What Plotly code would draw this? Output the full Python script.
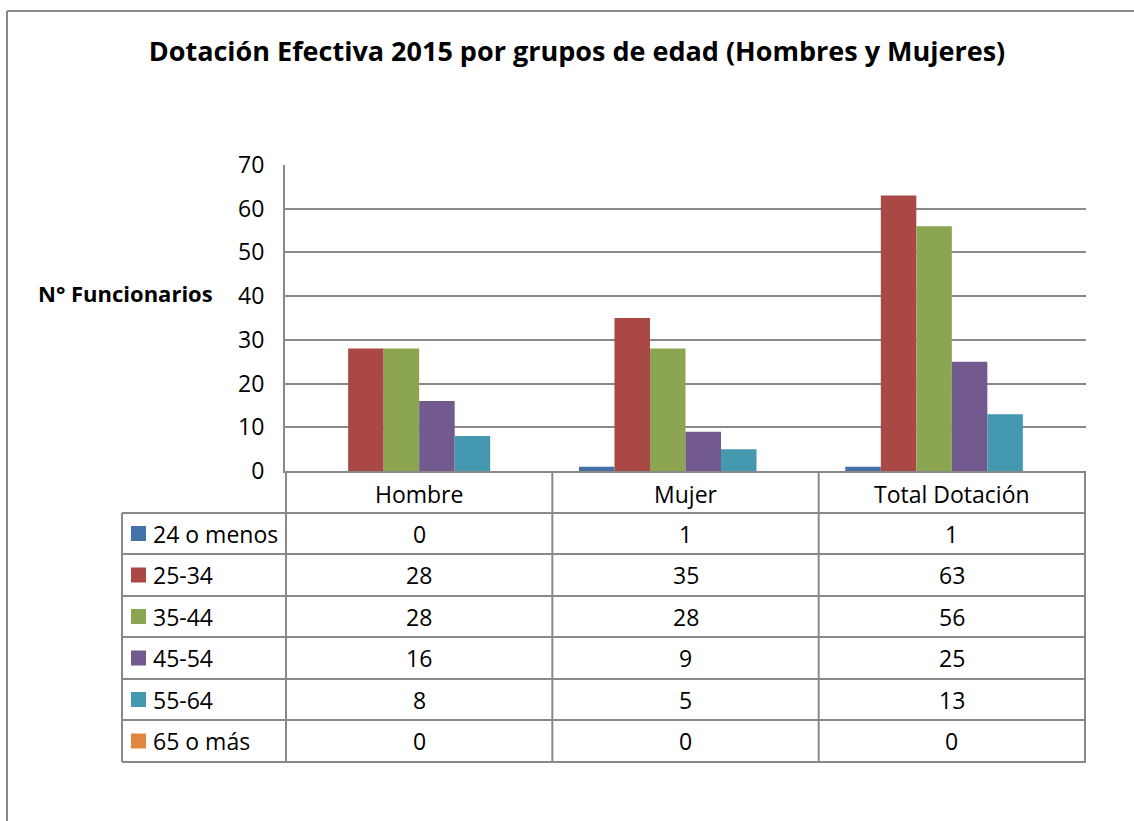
import plotly.graph_objects as go

categories = ["Hombre", "Mujer", "Total Dotación"]
series_names = ["24 o menos", "25-34", "35-44", "45-54", "55-64", "65 o más"]
v_24_menos = [0, 1, 1]
v_25_34 = [28, 35, 63]
v_35_44 = [28, 28, 56]
v_45_54 = [16, 9, 25]
v_55_64 = [8, 5, 13]
v_65_mas = [0, 0, 0]
series_values = [v_24_menos, v_25_34, v_35_44, v_45_54, v_55_64, v_65_mas]
colors = ["#4472A8", "#AA4845", "#8BA550", "#72598E", "#4499B1", "#E0863F"]
y_ticks = [0, 10, 20, 30, 40, 50, 60, 70]

title_text = "Dotación Efectiva 2015 por grupos de edad (Hombres y Mujeres)"
y_title = "N° Funcionarios"

W, H = 1134, 821
L, R, T, B = 285, 1086, 165, 471
FONT = "Open Sans"
GRID = "#898989"
FS = 23


def px(xp):
    return (xp - L) / (R - L)


def py(yp):
    return (B - yp) / (B - T)


fig = go.Figure()
for name, vals, col in zip(series_names, series_values, colors):
    fig.add_trace(go.Bar(x=categories, y=vals, name=name, marker=dict(color=col, line=dict(width=0))))

shapes = []
line = dict(color=GRID, width=2)
row_edges = [513, 554, 596, 637, 679, 720, 762]
for yp in row_edges:
    shapes.append(dict(type="line", xref="paper", yref="paper", x0=px(122), x1=px(R), y0=py(yp), y1=py(yp), line=line))
shapes.append(dict(type="line", xref="paper", yref="paper", x0=px(122), x1=px(122), y0=py(513), y1=py(762), line=line))
for i in range(len(categories) + 1):
    xv = i - 0.5
    shapes.append(dict(type="line", xref="x", yref="paper", x0=xv, x1=xv, y0=py(B), y1=py(762), line=line))
for i, col in enumerate(colors):
    yc = (row_edges[i] + row_edges[i + 1]) / 2
    shapes.append(dict(type="rect", xref="paper", yref="paper", x0=px(131), x1=px(146), y0=py(yc + 7.5), y1=py(yc - 7.5), fillcolor=col, line=dict(width=0)))
shapes.append(dict(type="line", xref="paper", yref="paper", x0=px(7), x1=px(7), y0=py(11), y1=py(830), line=line))
shapes.append(dict(type="line", xref="paper", yref="paper", x0=px(7), x1=px(1140), y0=py(11), y1=py(11), line=line))

annotations = []
for i, (name, vals) in enumerate(zip(series_names, series_values)):
    yc = (row_edges[i] + row_edges[i + 1]) / 2
    annotations.append(dict(text=name, xref="paper", yref="paper", x=px(151), y=py(yc), xanchor="left", yanchor="middle", showarrow=False, font=dict(family=FONT, size=FS, color="#000")))
    for c, v in zip(categories, vals):
        annotations.append(dict(text=str(v), xref="x", yref="paper", x=c, y=py(yc), xanchor="center", yanchor="middle", showarrow=False, font=dict(family=FONT, size=FS, color="#000")))
annotations.append(dict(text="<b>" + y_title + "</b>", xref="paper", yref="paper", x=px(125.5), y=py(293), xanchor="center", yanchor="middle", showarrow=False, font=dict(family=FONT, size=22, color="#000")))

fig.update_layout(
    width=W, height=H,
    margin=dict(l=L, r=W - R, t=T, b=H - B),
    paper_bgcolor="white", plot_bgcolor="white",
    title=dict(text="<b>" + title_text + "</b>", x=577 / W, xanchor="center", y=1 - 52 / H, yanchor="middle", font=dict(family=FONT, size=27, color="#000")),
    showlegend=False,
    bargap=0.2, bargroupgap=0,
    barmode="group",
    shapes=shapes,
    annotations=annotations,
    font=dict(family=FONT, color="#000"),
)
fig.update_xaxes(showgrid=False, showline=True, linecolor=GRID, linewidth=2, ticks="", tickfont=dict(family=FONT, size=FS, color="#000"), ticklabelstandoff=2)
fig.update_yaxes(range=[0, 70], tickvals=y_ticks, showgrid=True, gridcolor=GRID, gridwidth=2, showline=True, linecolor=GRID, linewidth=2, ticks="", zeroline=False, tickfont=dict(family=FONT, size=FS, color="#000"), ticklabelstandoff=14)

fig.write_html("out.html", config={"displayModeBar": False},
               post_script="document.body.style.margin='0';document.body.style.overflow='hidden';")
